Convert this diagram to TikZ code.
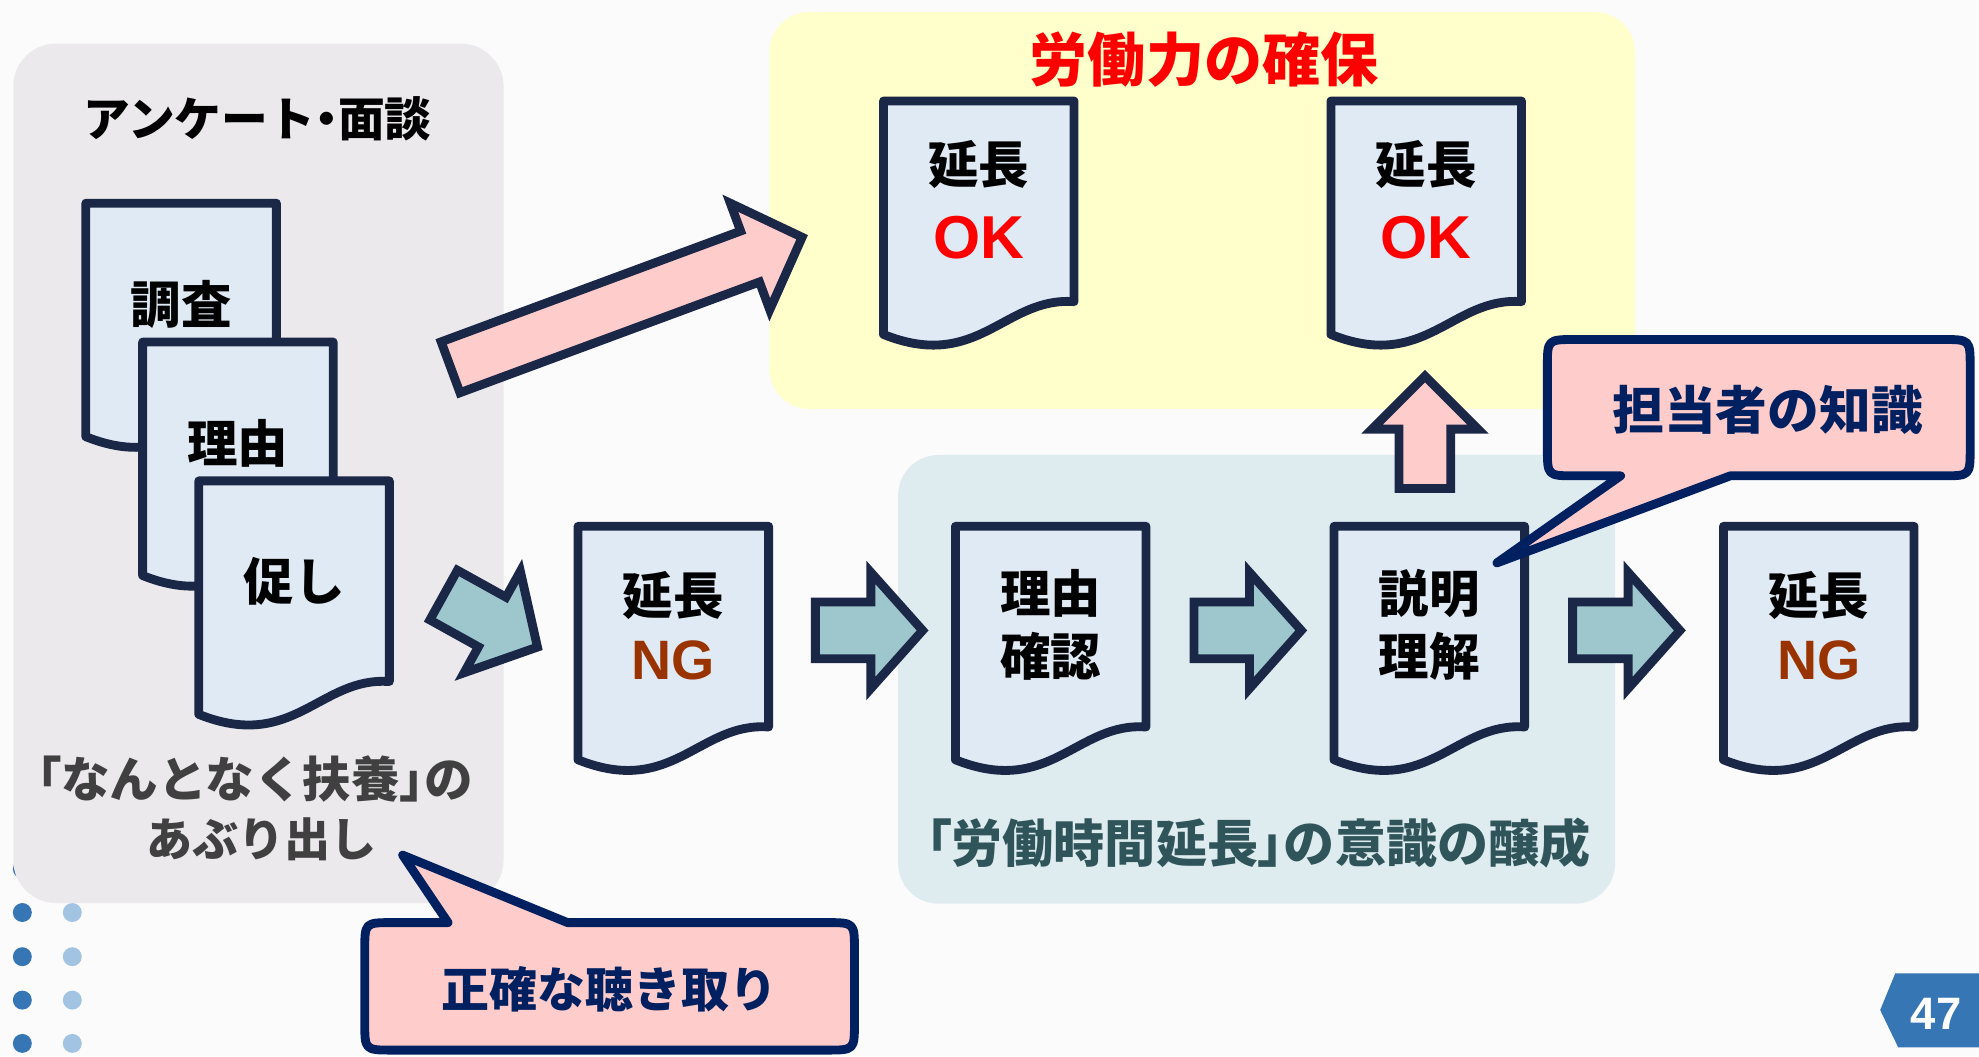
\documentclass[tikz,border=0pt]{standalone}
\usepackage{fontspec}
\setmainfont{Noto Sans CJK JP}
\newfontfamily\latf{Liberation Sans}
\definecolor{bgc}{HTML}{FBFBFC}
\definecolor{graypan}{HTML}{EBE9EC}
\definecolor{yellowpan}{HTML}{FFFFCC}
\definecolor{bluepan}{HTML}{DEEBEF}
\definecolor{docfill}{HTML}{E0EAF5}
\definecolor{navy}{HTML}{1B2747}
\definecolor{tealc}{HTML}{9DC6CD}
\definecolor{pinkc}{HTML}{FFCCCC}
\definecolor{cnavy}{HTML}{002060}
\definecolor{redc}{HTML}{FF0000}
\definecolor{ngbrown}{HTML}{993300}
\definecolor{graytxt}{HTML}{404040}
\definecolor{tealtxt}{HTML}{2F555A}
\definecolor{dotA}{HTML}{3776B4}
\definecolor{dotB}{HTML}{A2C4E2}
\newcommand\fsz[1]{\fontsize{#1pt}{#1pt}\selectfont}
\newcommand\pw[1]{{\addfontfeature{RawFeature=+palt}#1}}
\tikzset{
  docline/.style={draw=navy, fill=docfill, line width=7pt, line join=round},
  tealarr/.style={draw=navy, fill=tealc, line width=7pt, line join=miter},
  pinkarr/.style={draw=navy, fill=pinkc, line width=7pt, line join=miter},
  callout/.style={draw=cnavy, fill=pinkc, line width=7pt, line join=round},
  doctext/.style={inner sep=0pt, font={\bfseries\fsz{40}}},
  ngtext/.style={inner sep=0pt, text=ngbrown, font={\latf\bfseries\fsz{44}}},
  oktext/.style={inner sep=0pt, text=redc, font={\latf\bfseries\fsz{48}}},
  ptitle/.style={inner sep=0pt, font={\bfseries\fsz{37}}},
  graytext/.style={inner sep=0pt, text=graytxt, font={\bfseries\fsz{#1}}},
  tealtext/.style={inner sep=0pt, text=tealtxt, font={\bfseries\fsz{40.5}}},
  redtitle/.style={inner sep=0pt, text=redc, font={\bfseries\fsz{46}}},
  callouttext/.style={inner sep=0pt, text=cnavy, font={\bfseries\fsz{#1}}},
}
% document shape: #1 name, #2 x, #3 y (top-left, line centre)
\newcommand\docshape[3]{%
  \begin{scope}[shift={(#2,#3)}]
    \draw[docline] (0,0) -- (151,0) -- (151,159) .. controls (96,155) and (75,215) .. (0,185) -- cycle;
    \coordinate (#1) at (75.5,0);
  \end{scope}}
% block arrow: #1 style, #2 x, #3 y, #4 angle, #5 shaft length, #6 shaft half, #7 head half, #8 head length
\newcommand\blockarr[8]{%
  \begin{scope}[shift={(#2,#3)}, rotate=#4]
    \draw[#1] (0,#6) -- (#5,#6) -- (#5,#7) -- ({#5+#8},0) -- (#5,-#7) -- (#5,-#6) -- (0,-#6) -- cycle;
  \end{scope}}
\begin{document}
\begin{tikzpicture}[x=1pt,y=-1pt]
\useasboundingbox (0,0) rectangle (1568,837);
\fill[bgc] (0,0) rectangle (1568,837);

% decorative dots
\foreach \yy in {688.5,723,758,792.4,826.7}{
  \fill[dotA] (17.7,\yy) circle[radius=7.5];
  \fill[dotB] (57.3,\yy) circle[radius=7.5];
}

% panels
\fill[graypan, rounded corners=34] (10.5,34.5) rectangle (399,715.5);
\fill[yellowpan, rounded corners=32] (609.5,9.5) rectangle (1295.5,324);
\fill[bluepan, rounded corners=32] (711.6,360.5) rectangle (1279.7,716);

% panel texts
\node[ptitle] (tsurvey) at (204,94) {アンケート\pw{・}面談};
\node[graytext=38.5] (tnanto) at (202,617) {\pw{「}なんとなく扶養\pw{」}の};
\node[graytext=36.5] (taburi) at (207,665) {あぶり出し};
\node[redtitle] (tkakuho) at (954,47) {労働力の確保};
\node[tealtext] (tishiki) at (997,668) {\pw{「}労働時間延長\pw{」}の意識の醸成};

% stacked documents
\docshape{d1}{68}{161}
\node[doctext] (d1t) at (143.5,241) {調査};
\docshape{d2}{113}{271}
\node[doctext] (d2t) at (188.5,351) {理由};
\docshape{d3}{157.5}{381}
\node[doctext] (d3t) at (233,461) {促し};

% flow documents
\docshape{ng1}{458}{417}
\node[doctext] (ng1a) at (533.5,472) {延長};
\node[ngtext] (ng1b) at (533.5,523) {NG};
\docshape{riyu}{757}{417}
\node[doctext] (riyua) at (832.5,470) {理由};
\node[doctext] (riyub) at (832.5,520) {確認};
\docshape{setsu}{1057}{417}
\node[doctext] (setsua) at (1132.5,470) {説明};
\node[doctext] (setsub) at (1132.5,520) {理解};
\docshape{ng2}{1365.5}{417}
\node[doctext] (ng2a) at (1441,472) {延長};
\node[ngtext] (ng2b) at (1441,523) {NG};

% OK documents
\docshape{ok1}{700}{80}
\node[doctext] (ok1a) at (775.5,130) {延長};
\node[oktext] (ok1b) at (775.5,188) {OK};
\docshape{ok2}{1054.5}{80}
\node[doctext] (ok2a) at (1130,130) {延長};
\node[oktext] (ok2b) at (1130,188) {OK};

% block arrows
\blockarr{tealarr}{351.5}{471.5}{-29}{44}{22.5}{46}{41}
\blockarr{tealarr}{646}{499.5}{0}{44}{22.5}{46}{41}
\blockarr{tealarr}{946}{499.5}{0}{44}{22.5}{46}{41}
\blockarr{tealarr}{1246}{499.5}{0}{44}{22.5}{46}{41}
\blockarr{pinkarr}{1129}{387}{90}{47}{20.5}{42}{42}
\blockarr{pinkarr}{357}{291}{20.3}{253}{21.5}{45}{44}

% callout: knowledge of staff
\coordinate (tipA) at (1186,446);
\draw[callout] (1248,269) -- (1539,269) .. controls (1561,269) .. (1561,291) -- (1561,355)
  .. controls (1561,377) .. (1539,377) -- (1371,377) -- (tipA) -- (1284,377) -- (1248,377)
  .. controls (1226,377) .. (1226,355) -- (1226,291) .. controls (1226,269) .. (1248,269) -- cycle;
\node[callouttext=41] (ctA) at (1400.6,325) {担当者の知識};

% callout: accurate hearing
\coordinate (tipB) at (319,677.5);
\draw[callout] (311,731) -- (355,731) -- (tipB) -- (449.7,731) -- (655,731)
  .. controls (677,731) .. (677,753) -- (677,810) .. controls (677,832) .. (655,832)
  -- (311,832) .. controls (289,832) .. (289,810) -- (289,753) .. controls (289,731) .. (311,731) -- cycle;
\node[callouttext=38] (ctB) at (483,784) {正確な聴き取り};

% page badge
\fill[dotA] (1489.7,800.3) -- (1501.6,771.3) -- (1568,771.3) -- (1568,829.9) -- (1504,829.9) -- cycle;
\node[inner sep=0pt, text=white, font={\latf\bfseries\fsz{36}}] (pg) at (1534,803) {47};
\end{tikzpicture}
\end{document}
